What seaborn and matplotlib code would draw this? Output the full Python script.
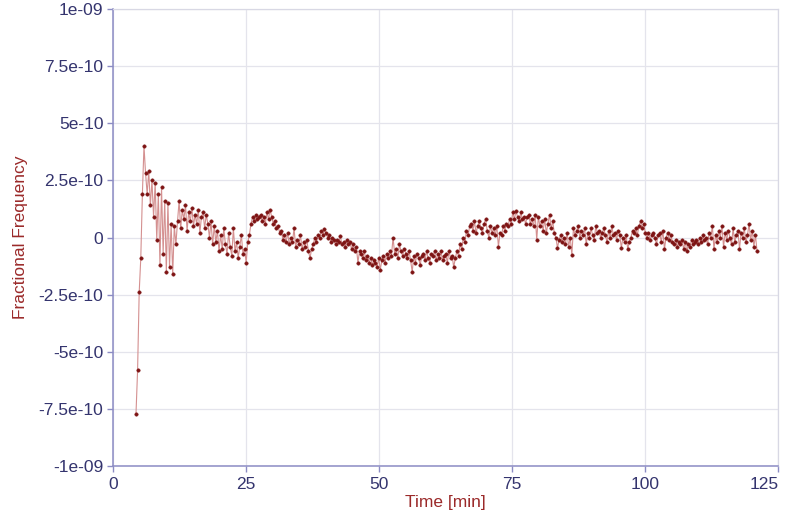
import numpy as np
import pandas as pd
import matplotlib
matplotlib.use("Agg")
import matplotlib.pyplot as plt
import seaborn as sns

# ---- Data (fractional frequency in units of 1e-10) ----
t_start = 4.3     # min, first sample
t_step = 0.3      # min between samples
frac_freq_e10 = [
    -7.7, -5.8, -2.4, -0.9, 1.9, 4.0, 2.8, 1.9, 2.9, 1.4,
    2.5, 0.9, 2.4, -0.1, 1.9, -1.2, 2.2, -0.7, 1.6, -1.5,
    1.5, -1.3, 0.6, -1.6, 0.5, -0.3, 0.7, 1.6, 0.4, 1.2,
    0.8, 1.4, 0.3, 1.1, 0.7, 1.3, 0.5, 1.0, 0.6, 1.2,
    0.2, 0.9, 1.1, 0.4, 1.0, 0.6, 0.0, 0.7, -0.3, 0.5,
    -0.2, 0.3, -0.6, 0.1, -0.5, 0.4, -0.3, -0.7, 0.2, -0.4,
    -0.8, 0.4, -0.6, -0.2, -0.9, -0.4, 0.1, -0.7, -0.5, -1.1,
    -0.2, 0.1, 0.6, 0.9, 0.7, 1.0, 0.8, 0.9, 1.0, 0.7,
    0.9, 0.6, 1.1, 0.8, 1.2, 0.9, 0.6, 0.7, 0.4, 0.5,
    0.2, 0.3, -0.1, 0.1, -0.2, 0.2, -0.3, 0.0, -0.2, 0.4,
    -0.4, -0.1, -0.3, 0.1, -0.5, -0.2, -0.4, -0.1, -0.6, -0.9,
    -0.5, -0.3, 0.0, -0.2, 0.1, 0.0, 0.3, 0.1, 0.35, 0.2,
    0.0, 0.1, -0.2, 0.0, -0.1, -0.3, -0.1, -0.2, 0.05, -0.3,
    -0.2, -0.4, -0.1, -0.3, -0.2, -0.5, -0.3, -0.6, -0.4, -1.1,
    -0.6, -0.7, -0.9, -0.6, -1.0, -0.8, -1.1, -0.9, -1.2, -1.0,
    -1.1, -1.3, -0.9, -1.4, -1.0, -0.8, -1.1, -0.7, -0.9, -0.6,
    -0.8, 0.0, -0.7, -0.5, -0.9, -0.3, -0.6, -0.8, -0.5, -0.7,
    -0.9, -0.6, -1.0, -1.5, -0.8, -1.1, -0.7, -0.9, -1.2, -0.8,
    -0.7, -1.0, -0.6, -0.9, -1.1, -0.7, -0.8, -0.6, -1.0, -0.7,
    -0.9, -0.6, -1.0, -0.8, -0.7, -1.1, -0.6, -0.9, -0.8, -1.3,
    -0.9, -0.6, -0.8, -0.3, -0.5, 0.0, -0.2, 0.3, 0.1, 0.5,
    0.6, 0.3, 0.7, 0.2, 0.5, 0.7, 0.4, 0.2, 0.6, 0.8,
    0.3, 0.0, 0.5, 0.2, 0.4, 0.1, 0.5, -0.4, 0.2, 0.1,
    0.5, 0.3, 0.6, 0.5, 0.8, 0.6, 1.1, 0.8, 1.15, 0.9,
    0.7, 1.1, 0.8, 0.9, 0.6, 0.9, 1.0, 0.6, 0.8, 0.5,
    1.0, -0.1, 0.9, 0.5, 0.7, 0.3, 0.8, 0.2, 0.6, 1.0,
    0.4, 0.7, 0.2, 0.0, -0.45, -0.1, 0.1, -0.2, 0.0, -0.3,
    0.2, -0.4, 0.0, -0.75, 0.4, 0.1, 0.3, 0.5, 0.0, 0.3,
    0.1, 0.4, -0.3, 0.2, 0.0, 0.4, 0.1, -0.1, 0.5, 0.2,
    0.3, 0.0, 0.2, 0.4, 0.1, -0.2, 0.3, 0.0, 0.5, 0.1,
    0.2, -0.1, 0.3, 0.1, -0.45, 0.0, -0.2, 0.1, -0.5, -0.2,
    0.0, 0.3, 0.2, 0.4, 0.1, 0.5, 0.7, 0.4, 0.6, 0.2,
    0.0, 0.2, -0.1, 0.1, 0.2, 0.0, -0.3, 0.1, 0.2, -0.2,
    0.3, -0.5, 0.0, 0.2, -0.1, 0.1, -0.2, -0.3, -0.1, -0.4,
    -0.2, -0.3, -0.1, -0.5, -0.2, -0.6, -0.3, -0.4, -0.1, -0.3,
    -0.2, -0.1, -0.3, 0.0, -0.2, 0.1, -0.1, 0.0, -0.3, 0.2,
    0.0, 0.5, -0.5, 0.1, -0.2, 0.3, 0.0, 0.5, -0.4, 0.2,
    -0.1, 0.3, 0.0, -0.3, 0.4, -0.2, 0.1, 0.3, -0.5, 0.2,
    0.0, 0.4, -0.2, 0.1, 0.6, -0.1, 0.3, -0.4, 0.1, -0.6,
]

x_ticks = [0, 25, 50, 75, 100, 125]
y_ticks = [-1e-9, -7.5e-10, -5e-10, -2.5e-10, 0, 2.5e-10, 5e-10, 7.5e-10, 1e-9]
y_tick_labels = ["-1e-09", "-7.5e-10", "-5e-10", "-2.5e-10", "0",
                 "2.5e-10", "5e-10", "7.5e-10", "1e-09"]

df = pd.DataFrame({"y": np.array(frac_freq_e10) * 1e-10})
df["Time"] = t_start + t_step * np.arange(len(df))

# ---- Plot ----
sns.set_style("white")
plt.rcParams["font.family"] = ["Liberation Sans", "DejaVu Sans"]

navy = "#34346e"
red = "#9b2a2a"
axis_col = "#8c8cc4"

fig = plt.figure(figsize=(7.91, 5.18), dpi=100)
ax = fig.add_axes([0.143, 0.100, 0.841, 0.883])

sns.lineplot(data=df, x="Time", y="y", ax=ax, color="#d49090", linewidth=0.8,
             marker="o", markersize=2.5, markerfacecolor="#7e1414",
             markeredgecolor="#7e1414", markeredgewidth=0.3)

ax.set_xlim(0, 125)
ax.set_ylim(-1e-9, 1e-9)
ax.set_xticks(x_ticks)
ax.set_xticklabels([str(v) for v in x_ticks])
ax.set_yticks(y_ticks)
ax.set_yticklabels(y_tick_labels)
ax.grid(True, color="#e4e4ec", linewidth=0.9)

ax.tick_params(axis="both", colors=axis_col, labelcolor=navy, labelsize=12.5,
               length=4, width=1, direction="out", left=True, bottom=True)
ax.tick_params(axis="x", pad=4)
ax.tick_params(axis="y", pad=3)
# last x label sits inside the figure edge, as in the reference
ax.get_xticklabels()[-1].set_horizontalalignment("right")

for side in ["left", "bottom"]:
    ax.spines[side].set_color(axis_col)
    ax.spines[side].set_linewidth(1.1)
for side in ["top", "right"]:
    ax.spines[side].set_color("#d8d8e4")
    ax.spines[side].set_linewidth(0.9)

ax.set_xlabel("Time [min]", color=red, fontsize=12.5, labelpad=2)
ax.set_ylabel("Fractional Frequency", color=red, fontsize=12.5, labelpad=8)

fig.savefig("out.png", dpi=100)
